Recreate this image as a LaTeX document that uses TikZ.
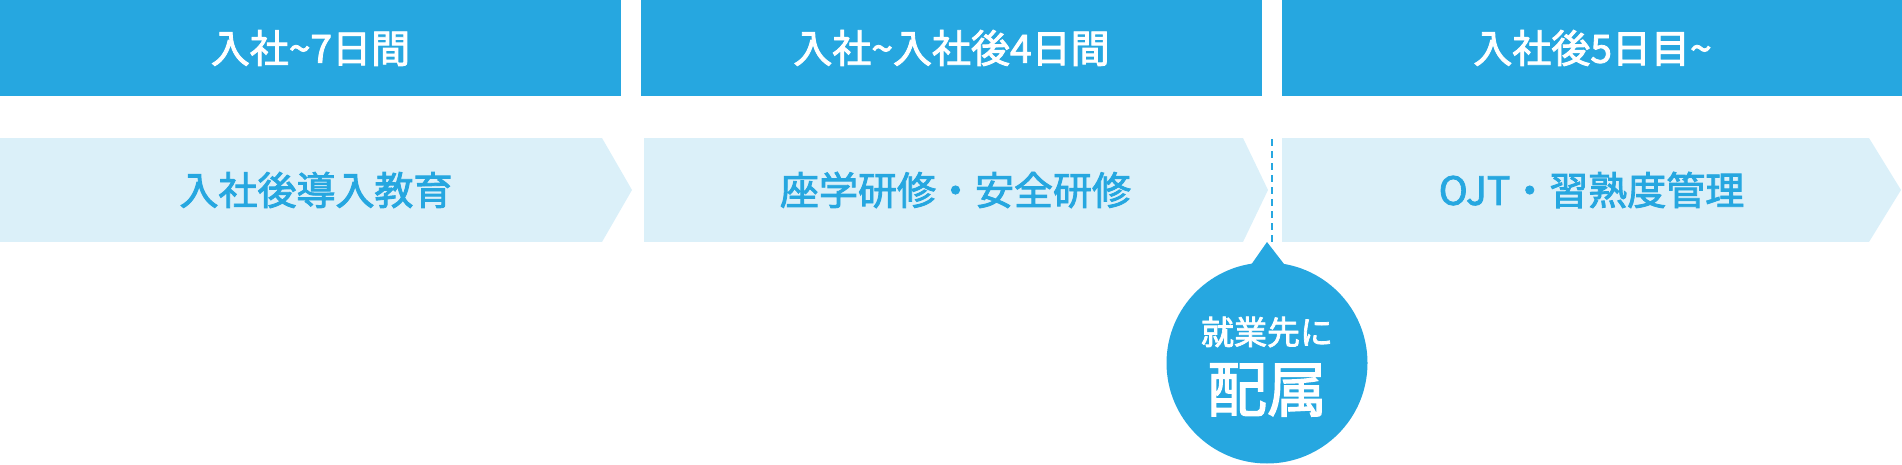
\documentclass[tikz,border=0pt]{standalone}
\usepackage{fontspec}
\setmainfont{Noto Sans CJK JP}[BoldFont=Noto Sans CJK JP,BoldFeatures={FakeBold=2.2}]
\usetikzlibrary{positioning}
\definecolor{mainblue}{RGB}{38,167,224}
\definecolor{lightblue}{RGB}{219,240,249}
\begin{document}
\begin{tikzpicture}[x=1pt,y=-1pt]
	\tikzstyle{period} = [rectangle,fill=mainblue,text=white,minimum width=621pt,minimum height=96pt,inner sep=0pt,outer sep=0pt,font=\fontsize{39}{44}\selectfont\bfseries]
	\tikzstyle{stage} = [rectangle,fill=lightblue,minimum height=104pt,inner sep=0pt,outer sep=0pt]
	\tikzstyle{stagetext} = [text=mainblue,font=\fontsize{39}{46}\selectfont\bfseries]
	\useasboundingbox (0,0) rectangle (1902,465);
	\node[period](p1)at(310.5,48){入社\textasciitilde 7日間};
	\node[period](p2)at(951.5,48){入社\textasciitilde 入社後4日間};
	\node[period](p3)at(1592.5,48){入社後5日目\textasciitilde};
	\node[stage,minimum width=602pt](s1)at(301,190){};
	\node[stage,minimum width=599pt](s2)at(943.5,190){};
	\node[stage,minimum width=587pt](s3)at(1575.5,190){};
	\fill[lightblue] (s1.north east) -- ++(30,52) -- (s1.south east) -- cycle;
	\fill[lightblue] (s2.north east) -- ++(25,52) -- (s2.south east) -- cycle;
	\fill[lightblue] (s3.north east) -- ++(32,52) -- (s3.south east) -- cycle;
	\node[stagetext](t1)at([xshift=15pt]s1.center){入社後導入教育};
	\node[stagetext](t2)at([xshift=12pt]s2.center){座学研修・安全研修};
	\node[stagetext](t3)at([xshift=16pt]s3.center){OJT・習熟度管理};
	\coordinate(d1)at(1272,139);
	\coordinate(d2)at(1272,242);
	\draw[mainblue,line width=2pt,dash pattern=on 7pt off 5pt] (d1) -- (d2);
	\node[circle,fill=mainblue,minimum size=201pt,inner sep=0pt](haizoku)at(1267,363){};
	\fill[mainblue] (haizoku.north) ++(-17,4) -- (1267,242) -- ++(17,22) -- cycle;
	\node[text=white,font=\fontsize{33}{38}\selectfont\bfseries](shugyo)at([yshift=31pt]haizoku.center){就業先に};
	\node[text=white,font=\fontsize{60}{66}\selectfont\bfseries](haizokutext)at([yshift=-27pt]haizoku.center){配属};
\end{tikzpicture}
\end{document}
